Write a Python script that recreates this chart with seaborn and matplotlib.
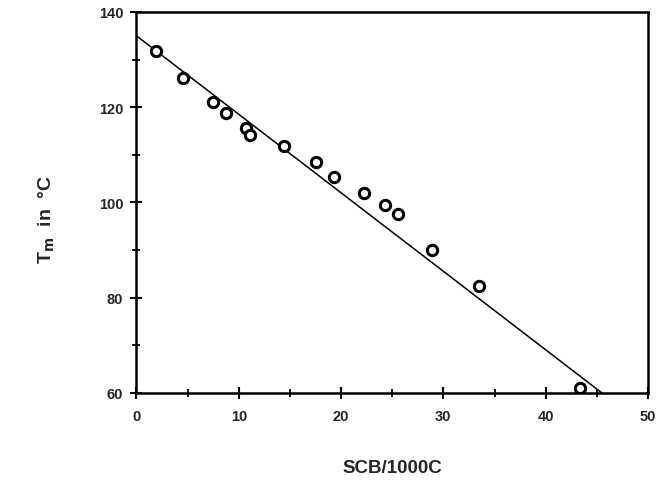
import numpy as np
import pandas as pd
import matplotlib
matplotlib.use("Agg")
import matplotlib.pyplot as plt
import seaborn as sns

# data
scb = [1.9, 4.5, 7.45, 8.75, 10.7, 11.1, 14.4, 17.55, 19.35, 22.25, 24.3, 25.6, 28.9, 33.5, 43.4]
tm = [131.9, 126.2, 121.1, 118.7, 115.7, 114.1, 111.9, 108.6, 105.4, 101.9, 99.4, 97.5, 90.0, 82.4, 61.0]

fit_x = [0, 45.5]
fit_y = [135.0, 60.0]

x_ticks = [0, 10, 20, 30, 40, 50]
y_ticks = [60, 80, 100, 120, 140]

sns.set_style("ticks")
plt.rcParams['font.family'] = ['Liberation Sans', 'DejaVu Sans']
plt.rcParams['font.weight'] = 'bold'
plt.rcParams['mathtext.default'] = 'bf'

points = pd.DataFrame({'scb': scb, 'tm': tm})
line = pd.DataFrame({'scb': fit_x, 'tm': fit_y})

fig = plt.figure(figsize=(6.59, 4.81), dpi=100)
ax = fig.add_axes([0.2071, 0.1809, 0.7762, 0.7921])

sns.lineplot(data=line, x='scb', y='tm', color='black', linewidth=1.1, ax=ax)
sns.scatterplot(data=points, x='scb', y='tm', marker='o', s=55, facecolor='white',
                edgecolor='black', linewidth=2.2, ax=ax, zorder=3)

ax.set_xlim(0, 50)
ax.set_ylim(60, 140)
ax.set_xticks(x_ticks)
ax.set_yticks(y_ticks)
ax.set_xticks([5, 15, 25, 35, 45], minor=True)
ax.set_yticks([70, 90, 110, 130], minor=True)
ax.set_xticklabels([str(v) for v in x_ticks], fontsize=10.5, fontweight='bold')
ax.set_yticklabels([str(v) for v in y_ticks], fontsize=10.5, fontweight='bold')

ax.tick_params(which='major', direction='inout', length=9, width=1.5, color='black')
ax.tick_params(which='minor', direction='inout', length=6, width=1.3, color='black')
ax.tick_params(axis='x', which='both', bottom=True, top=False, pad=7)
ax.tick_params(axis='y', which='both', left=True, right=False, pad=5)

for s in ax.spines.values():
    s.set_linewidth(1.8)
    s.set_color('black')

ax.set_xlabel('SCB/1000C', fontsize=13.5, fontweight='bold', labelpad=26)
ax.set_ylabel(r'T$_m$  in  °C', fontsize=14, fontweight='bold')
ax.yaxis.set_label_coords(-0.156, 0.457)

fig.savefig('out.png', dpi=100)
